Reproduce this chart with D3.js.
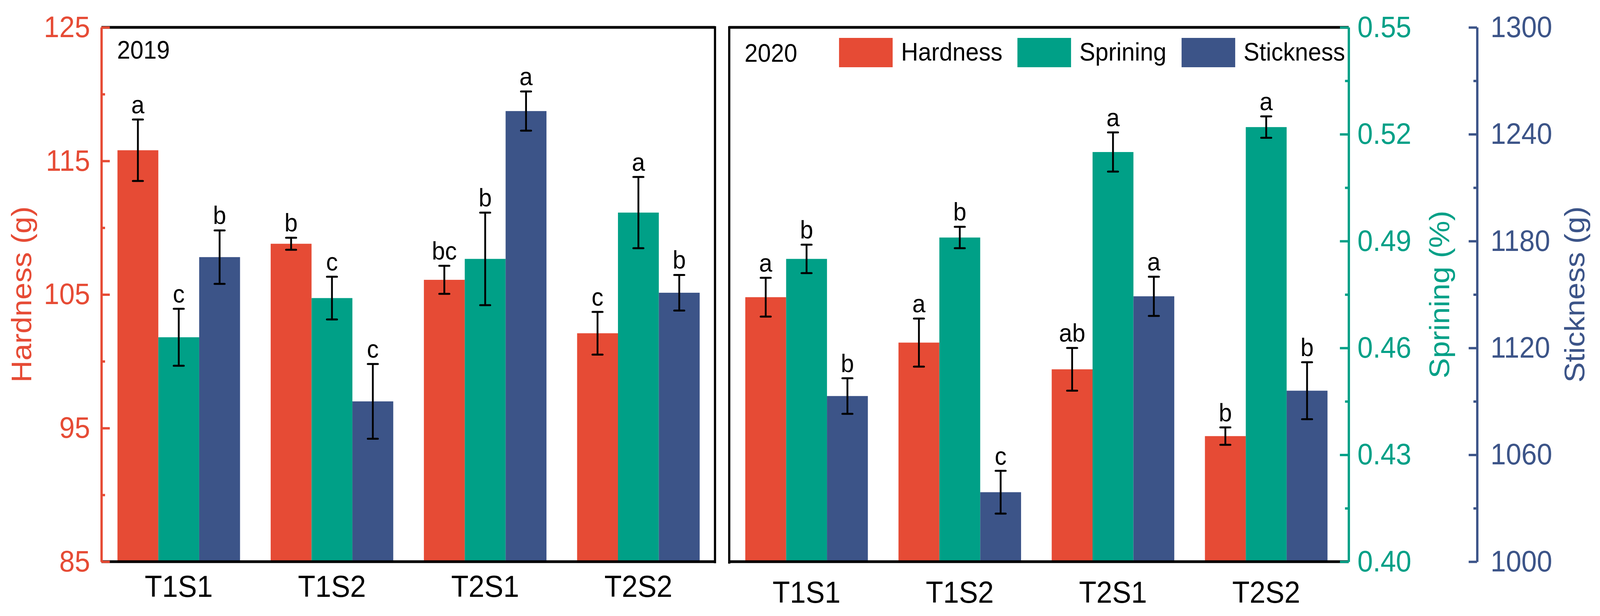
<!DOCTYPE html>
<html>
<head>
<meta charset="utf-8">
<script src="https://cdn.jsdelivr.net/npm/d3@7"></script>
<style>
  html, body { margin: 0; padding: 0; width: 100%; height: 100%; overflow: hidden; background: #ffffff; }
  #container { width: 100%; height: 100%; }
  svg { display: block; font-family: "Liberation Sans", Arial, sans-serif; }
</style>
</head>
<body>
<div id="container"></div>
<script>
// data
let categories = ["T1S1", "T1S2", "T2S1", "T2S2"];
let seriesNames = ["Hardness", "Sprining", "Stickness"];

let hardness2019 = [115.8, 108.8, 106.1, 102.1];
let hardnessErr2019 = [2.3, 0.45, 1.05, 1.6];
let spring2019 = [0.463, 0.474, 0.485, 0.498];
let springErr2019 = [0.008, 0.006, 0.013, 0.010];
let stick2019 = [1171, 1090, 1253, 1151];
let stickErr2019 = [15, 21, 11, 10];

let hardness2020 = [104.8, 101.4, 99.4, 94.4];
let hardnessErr2020 = [1.45, 1.8, 1.6, 0.65];
let spring2020 = [0.485, 0.491, 0.515, 0.522];
let springErr2020 = [0.004, 0.003, 0.0055, 0.003];
let stick2020 = [1093, 1039, 1149, 1096];
let stickErr2020 = [10, 12, 11, 16];

let letters2019 = [["a", "b", "bc", "c"], ["c", "c", "b", "a"], ["b", "c", "a", "b"]];
let letters2020 = [["a", "a", "ab", "b"], ["b", "b", "a", "a"], ["b", "c", "a", "b"]];

let hardTicks = [85, 95, 105, 115, 125];
let hardMinor = [90, 100, 110, 120];
let springTicks = [0.40, 0.43, 0.46, 0.49, 0.52, 0.55];
let springMinor = [0.415, 0.445, 0.475, 0.505, 0.535];
let stickTicks = [1000, 1060, 1120, 1180, 1240, 1300];
let stickMinor = [1030, 1090, 1150, 1210, 1270];

let colors = ["#E64B35", "#00A087", "#3C5488"];

let width = 4386;
let height = 1576;
let plotTop = 70, plotBottom = 1437;

//svg stretched over the whole window, whatever size it really is
let svg = d3.select("#container")
    .append("svg")
    .attr("viewBox", [0, 0, width, height])
    .attr("preserveAspectRatio", "none")
    .attr("width", "100%")
    .attr("height", "100%");

svg.append("rect").attr("width", width).attr("height", height).attr("fill", "#ffffff");

// y scales (shared by both panels)
let yHard = d3.scaleLinear().domain([85, 125]).range([plotBottom, plotTop]);
let ySpring = d3.scaleLinear().domain([0.40, 0.55]).range([plotBottom, plotTop]);
let yStick = d3.scaleLinear().domain([1000, 1300]).range([plotBottom, plotTop]);
let yScales = [yHard, ySpring, yStick];

let panels = [
    { year: "2019", x0: 280, left: 278, right: 1960, labelY: 150, catPad: 35,
      vals: [hardness2019, spring2019, stick2019],
      errs: [hardnessErr2019, springErr2019, stickErr2019], letters: letters2019 },
    { year: "2020", x0: 2001, left: 1998, right: 3697, labelY: 158, catPad: 50,
      vals: [hardness2020, spring2020, stick2020],
      errs: [hardnessErr2020, springErr2020, stickErr2020], letters: letters2020 }
];

panels.forEach(p => {
    let x = d3.scaleBand().domain(categories).range([p.x0, p.x0 + 1680]).paddingInner(0.2).paddingOuter(0.1);
    let xs = d3.scaleBand().domain(d3.range(3)).range([0, x.bandwidth()]);
    let g = svg.append("g");

    // bars
    for (let s = 0; s < 3; s++) {
        let rows = categories.map((c, i) => ({ c: c, v: p.vals[s][i], e: p.errs[s][i], l: p.letters[s][i] }));
        let y = yScales[s];
        g.selectAll(".bar" + s)
            .data(rows)
            .enter()
            .append("rect")
            .attr("x", d => x(d.c) + xs(s))
            .attr("y", d => y(d.v))
            .attr("width", xs.bandwidth())
            .attr("height", d => plotBottom - y(d.v))
            .attr("fill", colors[s]);

        let cx = d => x(d.c) + xs(s) + xs.bandwidth() / 2;
        // error bars
        g.selectAll(".err" + s)
            .data(rows)
            .enter()
            .append("line")
            .attr("x1", cx).attr("x2", cx)
            .attr("y1", d => y(d.v + d.e)).attr("y2", d => y(d.v - d.e))
            .attr("stroke", "#000").attr("stroke-width", 5);
        [1, -1].forEach(sign => {
            g.selectAll(".cap" + s + sign)
                .data(rows)
                .enter()
                .append("line")
                .attr("x1", d => cx(d) - 14).attr("x2", d => cx(d) + 14)
                .attr("y1", d => y(d.v + sign * d.e)).attr("y2", d => y(d.v + sign * d.e))
                .attr("stroke", "#000").attr("stroke-width", 5).attr("stroke-linecap", "round");
        });
        // significance letters
        g.selectAll(".let" + s)
            .data(rows)
            .enter()
            .append("text")
            .attr("x", cx)
            .attr("y", d => y(d.v + d.e) - 16)
            .attr("text-anchor", "middle")
            .attr("font-size", 65)
            .text(d => d.l);
    }

    // frame
    g.append("line").attr("x1", p.left).attr("x2", p.right).attr("y1", plotTop).attr("y2", plotTop)
        .attr("stroke", "#000").attr("stroke-width", 7);
    g.append("line").attr("x1", p.left).attr("x2", p.right).attr("y1", plotBottom).attr("y2", plotBottom)
        .attr("stroke", "#000").attr("stroke-width", 7);

    // category labels
    let xAxis = g.append("g")
        .attr("transform", `translate(0,${plotBottom})`)
        .call(d3.axisBottom(x).tickSize(0).tickPadding(p.catPad));
    xAxis.select(".domain").remove();
    xAxis.selectAll("text").attr("font-size", 78).attr("fill", "#000").attr("font-family", null);

    // year label
    g.append("text").attr("x", p.left + 43).attr("y", p.labelY)
        .attr("font-size", 65).text(p.year);
});

// panel borders
svg.append("line").attr("x1", 1960).attr("x2", 1960).attr("y1", plotTop - 3).attr("y2", plotBottom + 4)
    .attr("stroke", "#000").attr("stroke-width", 6);
svg.append("line").attr("x1", 1999).attr("x2", 1999).attr("y1", plotTop - 3).attr("y2", plotBottom + 5)
    .attr("stroke", "#000").attr("stroke-width", 6);

// axes
function styleAxis(sel, color, fs) {
    sel.select(".domain").attr("stroke", color).attr("stroke-width", 6);
    sel.selectAll(".tick line").attr("stroke", color).attr("stroke-width", 6);
    sel.selectAll(".tick text").attr("fill", color).attr("font-size", fs).attr("font-family", null);
}

let leftAx = svg.append("g").attr("transform", "translate(278,0)")
    .call(d3.axisLeft(yHard).tickValues(hardTicks).tickSizeInner(-23).tickSizeOuter(0).tickPadding(31));
styleAxis(leftAx, colors[0], 76);
let leftMinor = svg.append("g").attr("transform", "translate(278,0)")
    .call(d3.axisLeft(yHard).tickValues(hardMinor).tickSizeInner(-10).tickSizeOuter(0).tickFormat(""));
styleAxis(leftMinor, colors[0], 76);

let springAx = svg.append("g").attr("transform", "translate(3697,0)")
    .call(d3.axisRight(ySpring).tickValues(springTicks).tickSizeInner(-24).tickSizeOuter(0)
        .tickPadding(24).tickFormat(d3.format(".2f")));
styleAxis(springAx, colors[1], 76);
let springMinorAx = svg.append("g").attr("transform", "translate(3697,0)")
    .call(d3.axisRight(ySpring).tickValues(springMinor).tickSizeInner(-10).tickSizeOuter(0).tickFormat(""));
styleAxis(springMinorAx, colors[1], 76);

let stickAx = svg.append("g").attr("transform", "translate(4049,0)")
    .call(d3.axisRight(yStick).tickValues(stickTicks).tickSizeInner(-23).tickSizeOuter(0)
        .tickPadding(37).tickFormat(d3.format("d")));
styleAxis(stickAx, colors[2], 76);
let stickMinorAx = svg.append("g").attr("transform", "translate(4049,0)")
    .call(d3.axisRight(yStick).tickValues(stickMinor).tickSizeInner(-10).tickSizeOuter(0).tickFormat(""));
styleAxis(stickMinorAx, colors[2], 76);

// axis titles
let mid = (plotTop + plotBottom) / 2;
[["Hardness (g)", 86, colors[0]], ["Sprining (%)", 3973, colors[1]], ["Stickness (g)", 4343, colors[2]]]
    .forEach(t => {
        svg.append("text")
            .attr("transform", `translate(${t[1]},${mid}) rotate(-90)`)
            .attr("text-anchor", "middle")
            .attr("font-size", 78)
            .attr("fill", t[2])
            .text(t[0]);
    });

// legend
let legendX = [2300, 2789, 3239];
seriesNames.forEach((name, i) => {
    svg.append("rect").attr("x", legendX[i]).attr("y", 97).attr("width", 147).attr("height", 75)
        .attr("fill", colors[i]);
    svg.append("text").attr("x", legendX[i] + 170).attr("y", 155)
        .attr("font-size", 65).text(name);
});
</script>
</body>
</html>
